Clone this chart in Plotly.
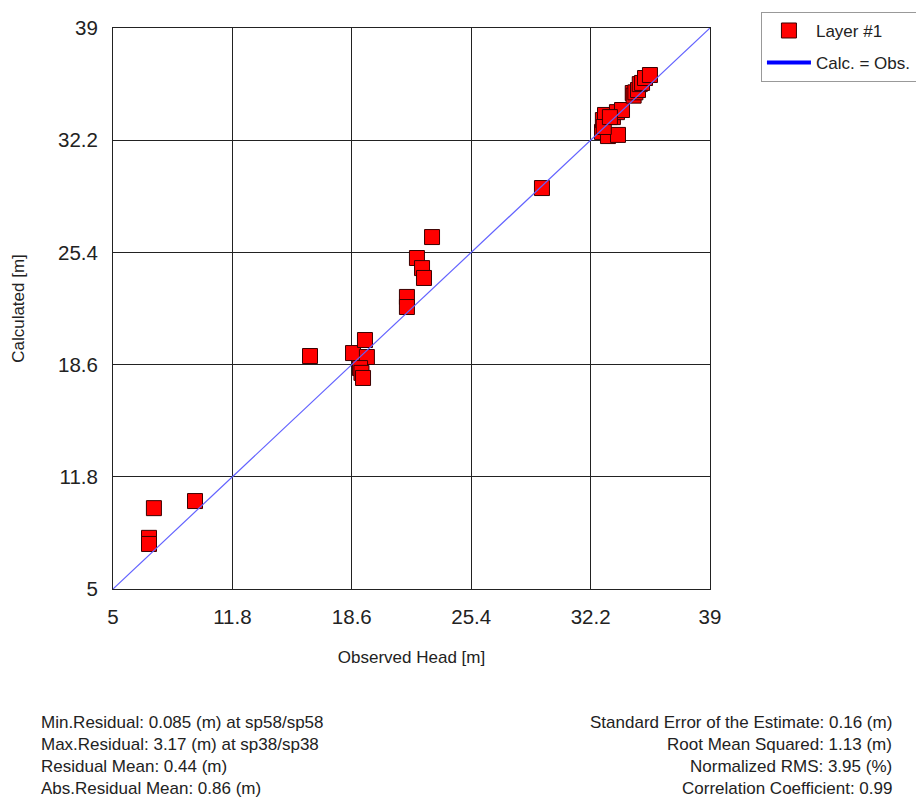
import plotly.graph_objects as go

obs = [7.05, 7.05, 7.33, 9.67,
       16.22, 18.67, 19.35, 19.46, 19.07, 19.15, 19.24,
       21.74, 21.74, 22.31, 22.6, 22.71, 23.17,
       29.43,
       32.85, 32.9, 33.02, 33.19, 33.47, 33.7, 33.76, 33.99, 32.95, 33.3,
       34.6, 34.65, 34.75, 34.9, 35.0, 35.13, 35.3, 35.58]
calc = [8.1, 7.73, 9.9, 10.33,
        19.12, 19.3, 20.09, 19.06, 18.39, 18.1, 17.79,
        22.7, 22.09, 25.06, 24.45, 23.85, 26.33,
        29.3,
        32.7, 33.42, 33.73, 32.45, 33.6, 33.9, 32.52, 34.03, 33.0, 33.6,
        35.06, 34.9, 35.1, 35.24, 35.6, 35.67, 35.97, 36.15]

line_x = [5, 39]
line_y = [5, 39]
ticks = [5, 11.8, 18.6, 25.4, 32.2, 39]
tick_text = ["5", "11.8", "18.6", "25.4", "32.2", "39"]

left_stats = ["Min.Residual: 0.085 (m) at sp58/sp58",
              "Max.Residual: 3.17 (m) at sp38/sp38",
              "Residual Mean: 0.44 (m)",
              "Abs.Residual Mean: 0.86 (m)"]
right_stats = ["Standard Error of the Estimate: 0.16 (m)",
               "Root Mean Squared: 1.13 (m)",
               "Normalized RMS: 3.95 (%)",
               "Correlation Coefficient: 0.99"]

font = "Liberation Sans, Arial, sans-serif"
txt = "#222222"

fig = go.Figure()
fig.add_trace(go.Scatter(
    x=obs, y=calc, mode="markers", name="Layer #1", legendgroup="a",
    marker=dict(symbol="square", size=15, color="#ff0000",
                line=dict(color="#3a0000", width=1))))
fig.add_trace(go.Scatter(
    x=line_x, y=line_y, mode="lines", name="Calc. = Obs.",
    showlegend=False, legendgroup="b",
    line=dict(color="#6262ff", width=1.2)))
# legend-only entry with the thick legend stroke shown in the reference
fig.add_trace(go.Scatter(
    x=[None], y=[None], mode="lines", name="Calc. = Obs.", legendgroup="b",
    line=dict(color="#0000ff", width=4)))

axis_common = dict(range=[5, 39], tickvals=ticks, ticktext=tick_text,
                   showgrid=True, gridcolor="#222222", gridwidth=1,
                   zeroline=False, showline=True, linecolor="#222222",
                   linewidth=1, mirror=True, ticks="",
                   tickfont=dict(size=20.5, color=txt, family=font))
fig.update_xaxes(**axis_common, ticklabelstandoff=9,
                 title=dict(text="Observed Head [m]", standoff=24,
                            font=dict(size=17, color=txt, family=font)))
fig.update_yaxes(**axis_common, ticklabelstandoff=10,
                 title=dict(text="Calculated [m]", standoff=29,
                            font=dict(size=17, color=txt, family=font)))

dy = 22.3 / 561
y0 = -0.2371
for i, t in enumerate(left_stats):
    fig.add_annotation(text=t, xref="paper", yref="paper", x=-0.1240,
                       y=y0 - i * dy, xanchor="left",
                       yanchor="middle", showarrow=False,
                       font=dict(size=17, color=txt, family=font))
for i, t in enumerate(right_stats):
    fig.add_annotation(text=t, xref="paper", yref="paper", x=1.3082,
                       y=y0 - i * dy, xanchor="right",
                       yanchor="middle", showarrow=False,
                       font=dict(size=17, color=txt, family=font))

fig.update_layout(
    width=916, height=789,
    margin=dict(l=105, r=214, t=20, b=208, pad=0, autoexpand=False),
    paper_bgcolor="white", plot_bgcolor="white",
    showlegend=True,
    legend=dict(xref="container", yref="container",
                x=0.822, y=0.995, xanchor="left", yanchor="top",
                bordercolor="#999999", borderwidth=1, bgcolor="white",
                font=dict(size=17, color=txt, family=font),
                itemwidth=44, tracegroupgap=7),
    font=dict(family=font),
)

fig.write_html("out.html")
